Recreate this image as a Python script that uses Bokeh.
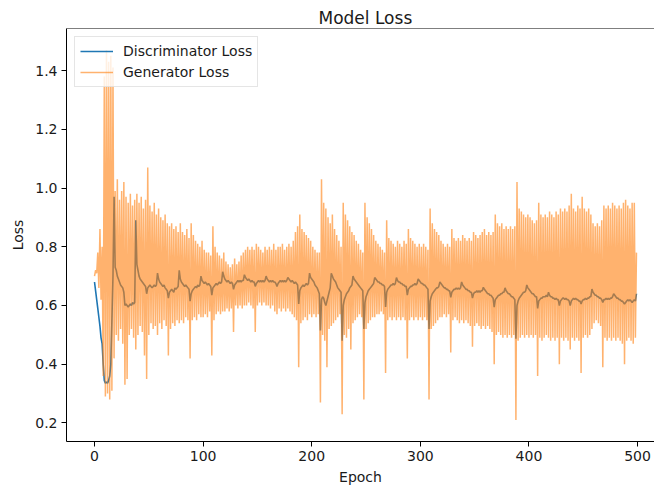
from bokeh.plotting import figure
from bokeh.models import Range1d, Span, FixedTicker
from bokeh.embed import file_html
from bokeh.resources import INLINE

title_text = "Model Loss"
x_label = "Epoch"
y_label = "Loss"
series_names = ["Discriminator Loss", "Generator Loss"]

x_ticks = [0, 100, 200, 300, 400, 500]
y_ticks = [0.2, 0.4, 0.6, 0.8, 1.0, 1.2, 1.4]
y_tick_labels = ["0.2", "0.4", "0.6", "0.8", "1.0", "1.2", "1.4"]

disc_loss = [
    0.68, 0.65, 0.62, 0.59, 0.56, 0.53, 0.49, 0.47, 0.40, 0.345,
    0.335, 0.34, 0.335, 0.345, 0.36, 0.40, 0.55, 0.70, 0.97, 0.73,
    0.72, 0.70, 0.69, 0.68, 0.67, 0.665, 0.66, 0.645, 0.60, 0.605,
    0.60, 0.595, 0.60, 0.605, 0.60, 0.61, 0.605, 0.61, 0.89, 0.74,
    0.72, 0.70, 0.69, 0.685, 0.68, 0.675, 0.67, 0.665, 0.64, 0.66,
    0.665, 0.67, 0.665, 0.66, 0.665, 0.67, 0.665, 0.67, 0.71, 0.69,
    0.68, 0.675, 0.67, 0.665, 0.67, 0.66, 0.655, 0.65, 0.625, 0.645,
    0.65, 0.655, 0.65, 0.645, 0.66, 0.655, 0.66, 0.665, 0.72, 0.69,
    0.68, 0.675, 0.67, 0.665, 0.67, 0.665, 0.66, 0.655, 0.615, 0.64,
    0.65, 0.655, 0.66, 0.665, 0.66, 0.67, 0.665, 0.67, 0.70, 0.685,
    0.68, 0.675, 0.68, 0.675, 0.67, 0.675, 0.67, 0.665, 0.635, 0.66,
    0.665, 0.67, 0.675, 0.67, 0.675, 0.68, 0.675, 0.68, 0.715, 0.70,
    0.69, 0.685, 0.68, 0.685, 0.68, 0.675, 0.68, 0.675, 0.655, 0.67,
    0.675, 0.68, 0.685, 0.68, 0.685, 0.68, 0.685, 0.685, 0.705, 0.695,
    0.69, 0.685, 0.69, 0.685, 0.68, 0.685, 0.68, 0.68, 0.665, 0.675,
    0.68, 0.685, 0.68, 0.685, 0.68, 0.685, 0.68, 0.685, 0.70, 0.69,
    0.685, 0.68, 0.685, 0.68, 0.685, 0.68, 0.68, 0.675, 0.665, 0.675,
    0.68, 0.685, 0.68, 0.685, 0.68, 0.685, 0.68, 0.685, 0.695, 0.69,
    0.685, 0.68, 0.685, 0.68, 0.675, 0.68, 0.675, 0.67, 0.605, 0.65,
    0.66, 0.665, 0.67, 0.665, 0.67, 0.675, 0.67, 0.675, 0.71, 0.695,
    0.69, 0.685, 0.68, 0.67, 0.665, 0.66, 0.65, 0.64, 0.515, 0.62,
    0.63, 0.625, 0.61, 0.60, 0.615, 0.63, 0.645, 0.66, 0.71, 0.70,
    0.69, 0.685, 0.68, 0.67, 0.66, 0.655, 0.65, 0.645, 0.48, 0.60,
    0.62, 0.63, 0.64, 0.645, 0.65, 0.66, 0.665, 0.67, 0.70, 0.69,
    0.685, 0.68, 0.675, 0.67, 0.665, 0.66, 0.655, 0.65, 0.52, 0.61,
    0.63, 0.64, 0.65, 0.655, 0.66, 0.665, 0.67, 0.675, 0.695, 0.69,
    0.685, 0.68, 0.68, 0.675, 0.675, 0.67, 0.67, 0.665, 0.595, 0.645,
    0.655, 0.66, 0.665, 0.67, 0.67, 0.675, 0.67, 0.675, 0.695, 0.685,
    0.68, 0.68, 0.675, 0.675, 0.67, 0.67, 0.665, 0.665, 0.635, 0.655,
    0.66, 0.665, 0.665, 0.67, 0.67, 0.675, 0.67, 0.675, 0.69, 0.685,
    0.68, 0.675, 0.675, 0.67, 0.67, 0.665, 0.66, 0.655, 0.52, 0.615,
    0.63, 0.64, 0.645, 0.65, 0.655, 0.66, 0.66, 0.665, 0.68, 0.675,
    0.67, 0.665, 0.66, 0.66, 0.655, 0.655, 0.65, 0.65, 0.628, 0.645,
    0.65, 0.655, 0.655, 0.66, 0.655, 0.66, 0.655, 0.66, 0.68, 0.67,
    0.665, 0.66, 0.655, 0.655, 0.65, 0.65, 0.645, 0.645, 0.625, 0.64,
    0.645, 0.645, 0.65, 0.645, 0.65, 0.645, 0.65, 0.65, 0.662, 0.655,
    0.65, 0.645, 0.64, 0.64, 0.635, 0.635, 0.63, 0.625, 0.594, 0.62,
    0.625, 0.63, 0.635, 0.635, 0.64, 0.64, 0.645, 0.645, 0.66, 0.65,
    0.645, 0.64, 0.64, 0.635, 0.63, 0.63, 0.625, 0.62, 0.487, 0.60,
    0.615, 0.625, 0.63, 0.635, 0.64, 0.645, 0.645, 0.65, 0.67, 0.66,
    0.655, 0.65, 0.645, 0.64, 0.64, 0.635, 0.63, 0.63, 0.59, 0.615,
    0.62, 0.625, 0.625, 0.63, 0.63, 0.63, 0.635, 0.63, 0.645, 0.635,
    0.63, 0.63, 0.625, 0.625, 0.62, 0.625, 0.62, 0.62, 0.60, 0.615,
    0.62, 0.625, 0.625, 0.62, 0.625, 0.62, 0.62, 0.615, 0.60, 0.615,
    0.62, 0.625, 0.62, 0.625, 0.62, 0.62, 0.615, 0.615, 0.605, 0.615,
    0.62, 0.62, 0.625, 0.62, 0.625, 0.625, 0.63, 0.63, 0.656, 0.645,
    0.64, 0.635, 0.635, 0.63, 0.63, 0.625, 0.625, 0.62, 0.61, 0.62,
    0.62, 0.625, 0.62, 0.625, 0.62, 0.625, 0.625, 0.63, 0.64, 0.635,
    0.63, 0.625, 0.625, 0.62, 0.62, 0.615, 0.615, 0.61, 0.605, 0.61,
    0.615, 0.62, 0.615, 0.62, 0.615, 0.61, 0.615, 0.62, 0.615, 0.64,
]

gen_loss = [
    0.70, 0.72, 0.71, 0.78, 0.66, 0.86, 0.62, 0.80, 0.36, 1.38,
    0.29, 1.47, 0.30, 1.43, 0.28, 1.45, 0.31, 1.41, 0.42, 0.99,
    0.50, 1.03, 0.48, 0.96, 0.52, 0.99, 0.47, 1.02, 0.33, 0.97,
    0.35, 0.95, 0.50, 0.98, 0.52, 0.94, 0.49, 0.96, 0.45, 0.98,
    0.50, 0.95, 0.53, 0.97, 0.51, 0.93, 0.43, 0.96, 0.35, 1.07,
    0.50, 0.94, 0.54, 0.92, 0.52, 0.95, 0.53, 0.91, 0.50, 0.93,
    0.54, 0.90, 0.52, 0.89, 0.55, 0.91, 0.53, 0.88, 0.43, 0.87,
    0.52, 0.88, 0.54, 0.86, 0.53, 0.87, 0.55, 0.85, 0.54, 0.88,
    0.55, 0.85, 0.54, 0.84, 0.56, 0.86, 0.55, 0.83, 0.42, 0.88,
    0.55, 0.84, 0.56, 0.82, 0.55, 0.81, 0.57, 0.80, 0.56, 0.82,
    0.56, 0.79, 0.57, 0.78, 0.56, 0.78, 0.58, 0.77, 0.43, 0.87,
    0.55, 0.80, 0.57, 0.78, 0.58, 0.77, 0.57, 0.76, 0.58, 0.78,
    0.58, 0.75, 0.59, 0.74, 0.58, 0.73, 0.59, 0.74, 0.51, 0.76,
    0.60, 0.74, 0.59, 0.75, 0.60, 0.77, 0.59, 0.78, 0.60, 0.79,
    0.60, 0.80, 0.61, 0.79, 0.60, 0.80, 0.59, 0.79, 0.51, 0.81,
    0.60, 0.80, 0.61, 0.79, 0.60, 0.78, 0.61, 0.80, 0.60, 0.79,
    0.60, 0.80, 0.59, 0.79, 0.60, 0.81, 0.58, 0.79, 0.57, 0.80,
    0.59, 0.80, 0.58, 0.81, 0.59, 0.79, 0.58, 0.80, 0.59, 0.81,
    0.58, 0.80, 0.57, 0.82, 0.56, 0.85, 0.55, 0.87, 0.39, 0.91,
    0.54, 0.86, 0.55, 0.85, 0.56, 0.84, 0.55, 0.83, 0.57, 0.82,
    0.56, 0.80, 0.57, 0.79, 0.56, 0.78, 0.57, 0.78, 0.27, 1.03,
    0.50, 0.95, 0.48, 0.93, 0.39, 0.90, 0.52, 0.88, 0.53, 0.91,
    0.54, 0.86, 0.55, 0.84, 0.56, 0.82, 0.57, 0.80, 0.23, 0.95,
    0.50, 0.91, 0.49, 0.89, 0.52, 0.87, 0.45, 0.85, 0.54, 0.84,
    0.55, 0.82, 0.56, 0.81, 0.57, 0.79, 0.56, 0.78, 0.28, 0.95,
    0.52, 0.90, 0.54, 0.88, 0.55, 0.86, 0.56, 0.84, 0.56, 0.82,
    0.57, 0.81, 0.57, 0.80, 0.58, 0.79, 0.57, 0.78, 0.37, 0.89,
    0.55, 0.83, 0.56, 0.82, 0.55, 0.81, 0.56, 0.80, 0.55, 0.82,
    0.56, 0.81, 0.55, 0.80, 0.56, 0.82, 0.55, 0.81, 0.42, 0.86,
    0.55, 0.83, 0.56, 0.82, 0.55, 0.81, 0.56, 0.80, 0.55, 0.81,
    0.56, 0.80, 0.55, 0.81, 0.56, 0.80, 0.55, 0.79, 0.28, 0.93,
    0.52, 0.88, 0.53, 0.86, 0.54, 0.85, 0.55, 0.84, 0.56, 0.82,
    0.56, 0.81, 0.57, 0.80, 0.56, 0.81, 0.57, 0.80, 0.44, 0.86,
    0.55, 0.83, 0.56, 0.82, 0.55, 0.83, 0.54, 0.82, 0.55, 0.84,
    0.54, 0.83, 0.55, 0.82, 0.54, 0.83, 0.53, 0.82, 0.46, 0.85,
    0.53, 0.84, 0.54, 0.83, 0.53, 0.84, 0.52, 0.85, 0.53, 0.86,
    0.52, 0.84, 0.53, 0.85, 0.52, 0.84, 0.51, 0.85, 0.40, 0.91,
    0.50, 0.88, 0.51, 0.87, 0.50, 0.88, 0.49, 0.86, 0.50, 0.87,
    0.49, 0.86, 0.50, 0.87, 0.49, 0.86, 0.50, 0.87, 0.21, 1.02,
    0.48, 0.93, 0.49, 0.92, 0.50, 0.91, 0.49, 0.90, 0.50, 0.91,
    0.49, 0.90, 0.50, 0.89, 0.49, 0.88, 0.50, 0.89, 0.36, 0.95,
    0.49, 0.91, 0.48, 0.90, 0.49, 0.91, 0.50, 0.90, 0.49, 0.92,
    0.48, 0.91, 0.49, 0.90, 0.48, 0.92, 0.49, 0.91, 0.40, 0.93,
    0.49, 0.92, 0.48, 0.93, 0.49, 0.92, 0.48, 0.94, 0.45, 0.98,
    0.49, 0.93, 0.48, 0.92, 0.49, 0.94, 0.48, 0.93, 0.37, 0.97,
    0.49, 0.93, 0.50, 0.92, 0.49, 0.93, 0.50, 0.91, 0.52, 0.88,
    0.54, 0.87, 0.55, 0.88, 0.54, 0.87, 0.53, 0.89, 0.39, 0.94,
    0.49, 0.93, 0.48, 0.94, 0.49, 0.93, 0.48, 0.95, 0.49, 0.94,
    0.48, 0.93, 0.49, 0.94, 0.48, 0.93, 0.47, 0.95, 0.40, 0.96,
    0.48, 0.94, 0.49, 0.93, 0.48, 0.95, 0.47, 0.95, 0.49, 0.78,
]

epochs = list(range(len(disc_loss)))
assert len(disc_loss) == 500 and len(gen_loss) == 500

FONT = "DejaVu Sans"
TXT = "#1a1a1a"

p = figure(width=654, height=490, output_backend="svg", toolbar_location=None,
           x_range=Range1d(-25.8, 515.6), y_range=Range1d(0.137, 1.543),
           min_border_left=66, min_border_right=0, min_border_top=28,
           min_border_bottom=49, title=title_text)

p.title.align = "left"
p.title.offset = 252
p.title.text_font = FONT
p.title.text_font_size = "17px"
p.title.text_font_style = "normal"
p.title.text_color = TXT
p.title.standoff = 2

p.grid.visible = False
p.outline_line_color = None
p.background_fill_color = "white"
p.border_fill_color = "white"

p.xaxis.ticker = FixedTicker(ticks=x_ticks)
p.yaxis.ticker = FixedTicker(ticks=y_ticks)
p.yaxis.major_label_overrides = {t: s for t, s in zip(y_ticks, y_tick_labels)}
p.xaxis.axis_label = x_label
p.yaxis.axis_label = y_label

for ax in (p.xaxis, p.yaxis):
    ax.axis_line_color = "black"
    ax.axis_line_width = 1
    ax.major_tick_line_color = "black"
    ax.major_tick_out = 5
    ax.major_tick_in = 0
    ax.minor_tick_out = 0
    ax.minor_tick_in = 0
    ax.major_label_text_font = FONT
    ax.major_label_text_font_size = "14px"
    ax.major_label_text_color = TXT
    ax.axis_label_text_font = FONT
    ax.axis_label_text_font_size = "14px"
    ax.axis_label_text_font_style = "normal"
    ax.axis_label_text_color = TXT
    ax.major_label_standoff = 4

p.xaxis.axis_label_standoff = 5
p.yaxis.axis_label_standoff = 6

top_line = Span(location=1.543, dimension="width", line_color="black", line_width=1)
p.add_layout(top_line)

p.line(epochs, disc_loss, line_color="#1f77b4", line_width=1.6,
       legend_label=series_names[0])
p.line(epochs, gen_loss, line_color="#ff7f0e", line_width=1.5, line_alpha=0.6,
       legend_label=series_names[1])

lg = p.legend[0]
lg.location = "top_left"
lg.margin = 8
lg.padding = 5
lg.spacing = 3
lg.label_height = 18
lg.glyph_height = 18
lg.glyph_width = 33
lg.label_standoff = 10
lg.label_text_font = FONT
lg.label_text_font_size = "14px"
lg.label_text_color = TXT
lg.border_line_color = "#cccccc"
lg.border_line_width = 1
lg.background_fill_alpha = 0.8

open("out.html", "w").write(file_html(p, INLINE))
